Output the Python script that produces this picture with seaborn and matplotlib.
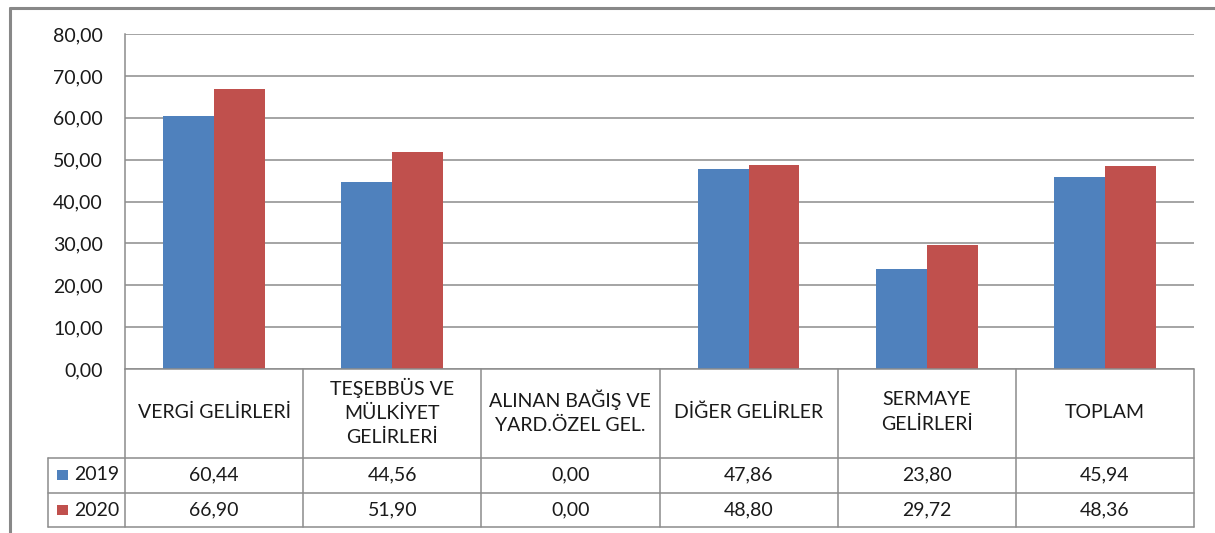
import matplotlib
matplotlib.use('Agg')
import matplotlib.pyplot as plt
from matplotlib.lines import Line2D
from matplotlib.patches import Rectangle
import pandas as pd
import seaborn as sns

categories = ['VERGİ GELİRLERİ', 'TEŞEBBÜS VE\nMÜLKİYET\nGELİRLERİ',
              'ALINAN BAĞIŞ VE\nYARD.ÖZEL GEL.', 'DİĞER GELİRLER',
              'SERMAYE\nGELİRLERİ', 'TOPLAM']
years = ['2019', '2020']
values_2019 = [60.44, 44.56, 0.00, 47.86, 23.80, 45.94]
values_2020 = [66.90, 51.90, 0.00, 48.80, 29.72, 48.36]
colors = ['#4F81BD', '#C0504D']
yticks = [0, 10, 20, 30, 40, 50, 60, 70, 80]

sns.set_style('white')
plt.rcParams['font.family'] = ['Lato', 'DejaVu Sans']
FS = 14
TXT = '#1a1a1a'
LINE = '#8c8c8c'

df = pd.DataFrame({
    'category': categories * 2,
    'year': [years[0]] * len(categories) + [years[1]] * len(categories),
    'value': values_2019 + values_2020,
})

W, H = 1215, 533
fig = plt.figure(figsize=(W / 100, H / 100), dpi=100)
ax = fig.add_axes([125 / W, 1 - 369 / H, (1194 - 125) / W, (369 - 34) / H])

sns.barplot(data=df, x='category', y='value', hue='year', palette=colors,
            width=0.57, saturation=1, ax=ax, legend=False,
            edgecolor='none', linewidth=0)

ax.set_xlim(-0.5, len(categories) - 0.5)
ax.set_ylim(0, 80)
ax.set_yticks(yticks)
ax.set_yticklabels([f'{v:.2f}'.replace('.', ',') for v in yticks], fontsize=FS, color=TXT)
ax.tick_params(axis='y', length=0, pad=16)
ax.set_xticks([])
ax.set_xlabel('')
ax.set_ylabel('')
ax.grid(axis='y', color=LINE, lw=1.1)
ax.set_axisbelow(True)
for s in ['top', 'right', 'bottom']:
    ax.spines[s].set_visible(False)
ax.spines['left'].set_color(LINE)
ax.spines['left'].set_linewidth(1.1)

# data table under the chart
ah = 369 - 34
def yf(px):
    return (369 - px) / ah

tr = ax.get_xaxis_transform()
n = len(categories)
x_left = -0.5 - (125 - 48) / ((1194 - 125) / n)
y_head, y_r1, y_bot = yf(458), yf(493), yf(527)
kw = dict(transform=tr, clip_on=False, color=LINE, lw=1.1)
ax.add_line(Line2D([-0.5, n - 0.5], [0, 0], **kw))
for yy in [y_head, y_r1, y_bot]:
    ax.add_line(Line2D([x_left, n - 0.5], [yy, yy], **kw))
for i in range(n + 1):
    ax.add_line(Line2D([i - 0.5, i - 0.5], [0, y_bot], **kw))
ax.add_line(Line2D([x_left, x_left], [y_head, y_bot], **kw))

for i, cat in enumerate(categories):
    ax.text(i, yf(412), cat, transform=tr, ha='center', va='center',
            fontsize=FS, color=TXT, linespacing=1.5)

rows = [(years[0], values_2019, yf(475)), (years[1], values_2020, yf(510))]
for (yr, vals, yy), c in zip(rows, colors):
    for i, v in enumerate(vals):
        ax.text(i, yy, f'{v:.2f}'.replace('.', ','), transform=tr, ha='center',
                va='center', fontsize=FS, color=TXT)
    ax.add_patch(Rectangle((x_left + 0.05, yy - 0.016), 0.062, 0.032,
                           transform=tr, clip_on=False, color=c, lw=0))
    ax.text(x_left + 0.145, yy, yr, transform=tr, ha='left', va='center',
            fontsize=FS, color=TXT)

# outer chart frame
fig.add_artist(Line2D([10 / W, 1], [1 - 8 / H, 1 - 8 / H], color='#888888', lw=2.2))
fig.add_artist(Line2D([10 / W, 10 / W], [0, 1 - 8 / H], color='#888888', lw=2.2))

fig.savefig('out.png', dpi=100)
